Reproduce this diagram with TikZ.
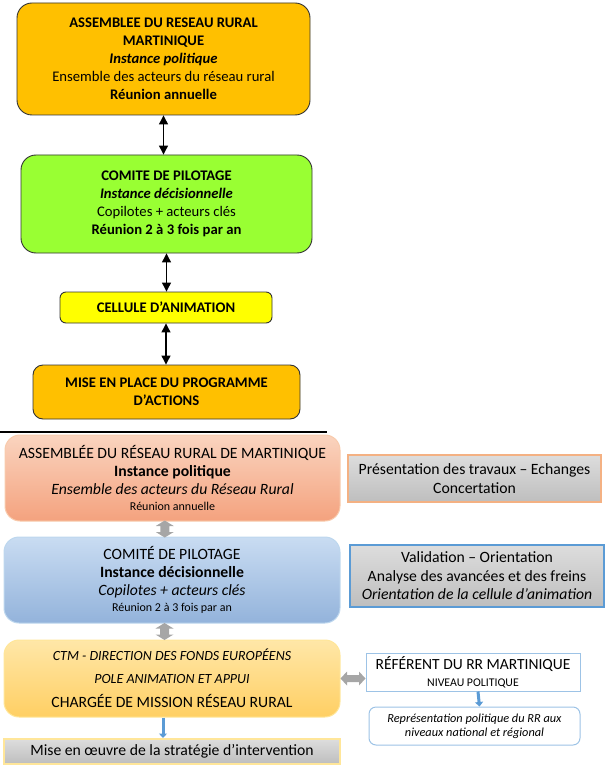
\documentclass[tikz,border=0pt]{standalone}
\usepackage{fontspec}
\setmainfont{Carlito}
\usetikzlibrary{arrows.meta,calc}
\definecolor{orgA}{HTML}{FFC000}
\definecolor{grnA}{HTML}{99FF33}
\definecolor{yelA}{HTML}{FFFF00}
\definecolor{salT}{HTML}{FAD4BF}
\definecolor{salB}{HTML}{F4A27E}
\definecolor{salE}{HTML}{F8CBAD}
\definecolor{salD}{HTML}{F4B183}
\definecolor{bluT}{HTML}{C9DCF2}
\definecolor{bluB}{HTML}{93B3DB}
\definecolor{bluE}{HTML}{BDD7EE}
\definecolor{bluD}{HTML}{5B9BD5}
\definecolor{bluL}{HTML}{9DC3E6}
\definecolor{ylwT}{HTML}{FFE7A8}
\definecolor{ylwB}{HTML}{FFCF63}
\definecolor{ylwE}{HTML}{FFE699}
\definecolor{gryT}{HTML}{DDDDDD}
\definecolor{gryB}{HTML}{BEBEBE}
\definecolor{gryA}{HTML}{A6A6A6}
\begin{document}
\begin{tikzpicture}[x=1pt,y=-1pt,
  every node/.style={font=\fontsize{14.67}{18}\selectfont, align=center, inner sep=0pt},
  lowfont/.style={font=\fontsize{15.7}{18.5}\selectfont},
  topbox/.style={draw=black!80, line width=0.9pt, rounded corners=15pt},
  softbox/.style={lowfont, rounded corners=15pt, draw=#1, line width=1pt},
  sidebox/.style={lowfont, top color=gryT, bottom color=gryB, draw=#1, line width=2pt},
  dbl/.style={{Triangle[length=9pt,width=9pt]}-{Triangle[length=9pt,width=9pt]}, line width=1.2pt},
  bluarrow/.style={-{Triangle[length=4.5pt,width=8pt]}, line width=3pt, draw=bluD},
  blockarrow/.style={fill=gryA},
]
\useasboundingbox (0,0) rectangle (607,770);
% top diagram
\node[topbox, fill=orgA, minimum width=293pt, minimum height=112pt] (b1) at (163.5,59)
  {\textbf{ASSEMBLEE DU RESEAU RURAL}\\ \textbf{MARTINIQUE}\\ \textbf{\textit{Instance politique}}\\ Ensemble des acteurs du réseau rural\\ \textbf{Réunion annuelle}};
\node[topbox, fill=grnA, minimum width=291pt, minimum height=98pt] (b2) at (166.5,204)
  {\textbf{COMITE DE PILOTAGE}\\ \textbf{\textit{Instance décisionnelle}}\\ Copilotes + acteurs clés\\ \textbf{Réunion 2 à 3 fois par an}};
\node[topbox, rounded corners=6pt, fill=yelA, minimum width=212pt, minimum height=31pt] (b3) at (166,307.5)
  {\textbf{CELLULE D’ANIMATION}};
\node[topbox, rounded corners=10pt, fill=orgA, minimum width=267pt, minimum height=54pt] (b4) at (166.5,392)
  {\textbf{MISE EN PLACE DU PROGRAMME}\\ \textbf{D’ACTIONS}};
\draw[dbl] (b1.south) -- (b1.south |- b2.north);
\draw[dbl] (b2.south) -- (b2.south |- b3.north);
\draw[dbl] (b3.south) -- (b3.south |- b4.north);
% separator
\coordinate (s1) at (0,432);
\coordinate (s2) at (327,432);
\draw[line width=1.3pt] (s1) -- (s2);
% bottom diagram
\node[softbox=salE, top color=salT, bottom color=salB, minimum width=335pt, minimum height=86pt] (b5) at (172.5,478)
  {ASSEMBLÉE DU RÉSEAU RURAL DE MARTINIQUE\\[-1pt] \textbf{Instance politique}\\[0pt] \textit{Ensemble des acteurs du Réseau Rural}\\[-3pt] {\fontsize{12}{13}\selectfont Réunion annuelle}};
\node[sidebox=salD, minimum width=253pt, minimum height=47pt] (r5) at (474.5,478.5)
  {Présentation des travaux – Echanges\\ Concertation};
\node[softbox=bluE, top color=bluT, bottom color=bluB, minimum width=336pt, minimum height=86pt] (b6) at (172,580)
  {COMITÉ DE PILOTAGE\\[-1pt] \textbf{Instance décisionnelle}\\[0pt] \textit{Copilotes + acteurs clés}\\[-3pt] {\fontsize{12}{13}\selectfont Réunion 2 à 3 fois par an}};
\node[sidebox=bluD, minimum width=254pt, minimum height=62pt] (r6) at (477,576)
  {Validation – Orientation\\ Analyse des avancées et des freins\\ \textit{Orientation de la cellule d’animation}};
\node[softbox=ylwE, top color=ylwT, bottom color=ylwB, minimum width=336pt, minimum height=77pt] (b7) at (172,678.5)
  {{\fontsize{14}{16}\selectfont\textit{CTM - DIRECTION DES FONDS EUROPÉENS}}\\[4pt]
   {\fontsize{14}{16}\selectfont\textit{POLE ANIMATION ET APPUI}}\\[6pt]
   {\fontsize{15.7}{18}\selectfont CHARGÉE DE MISSION RÉSEAU RURAL}};
\node[draw=bluL, line width=1pt, fill=white, minimum width=214pt, minimum height=38pt] (ref) at (473,672)
  {{\fontsize{15.5}{17}\selectfont RÉFÉRENT DU RR MARTINIQUE}\\[-1pt] {\fontsize{11.8}{14}\selectfont NIVEAU POLITIQUE}};
\node[draw=bluL, line width=1pt, fill=white, rounded corners=7pt, minimum width=211pt, minimum height=38pt] (rep) at (474.5,726)
  {\fontsize{12.3}{14}\selectfont\textit{Représentation politique du RR aux}\\[-4pt] \fontsize{12.3}{14}\selectfont\textit{niveaux national et régional}};
\node[sidebox=ylwE, minimum width=336pt, minimum height=25pt] (bot) at (172,751.5)
  {Mise en œuvre de la stratégie d’intervention};
% connectors
\coordinate (g56) at ($($(b5.south)+(-7.5,0)$)!0.5!($(b6.north)+(-7.5,0)$)$);
\coordinate (g67) at ($($(b6.south)+(-7.5,0)$)!0.5!($(b7.north)+(-7.5,0)$)$);
\coordinate (g7r) at ($(b7.east)!0.5!(b7.east -| ref.west)$);
\foreach \c in {g56,g67}{
  \begin{scope}[shift={(\c)}]
    \fill[blockarrow] (0,-8.5) -- (9,-3) -- (4.5,-3) -- (4.5,3) -- (9,3) -- (0,8.5)
      -- (-9,3) -- (-4.5,3) -- (-4.5,-3) -- (-9,-3) -- cycle;
  \end{scope}
}
\begin{scope}[shift={(g7r)}]
  \fill[blockarrow] (-12.5,0) -- (-6,-7) -- (-6,-3.5) -- (6,-3.5) -- (6,-7) -- (12.5,0)
    -- (6,7) -- (6,3.5) -- (-6,3.5) -- (-6,7) -- cycle;
\end{scope}
\draw[bluarrow] ($(b7.south)+(-9,0)$) -- ($(bot.north)+(-9,0)$);
\draw[bluarrow] ($(ref.south)+(5,0)$) -- ($(rep.north)+(5,0)$);
\end{tikzpicture}
\end{document}
